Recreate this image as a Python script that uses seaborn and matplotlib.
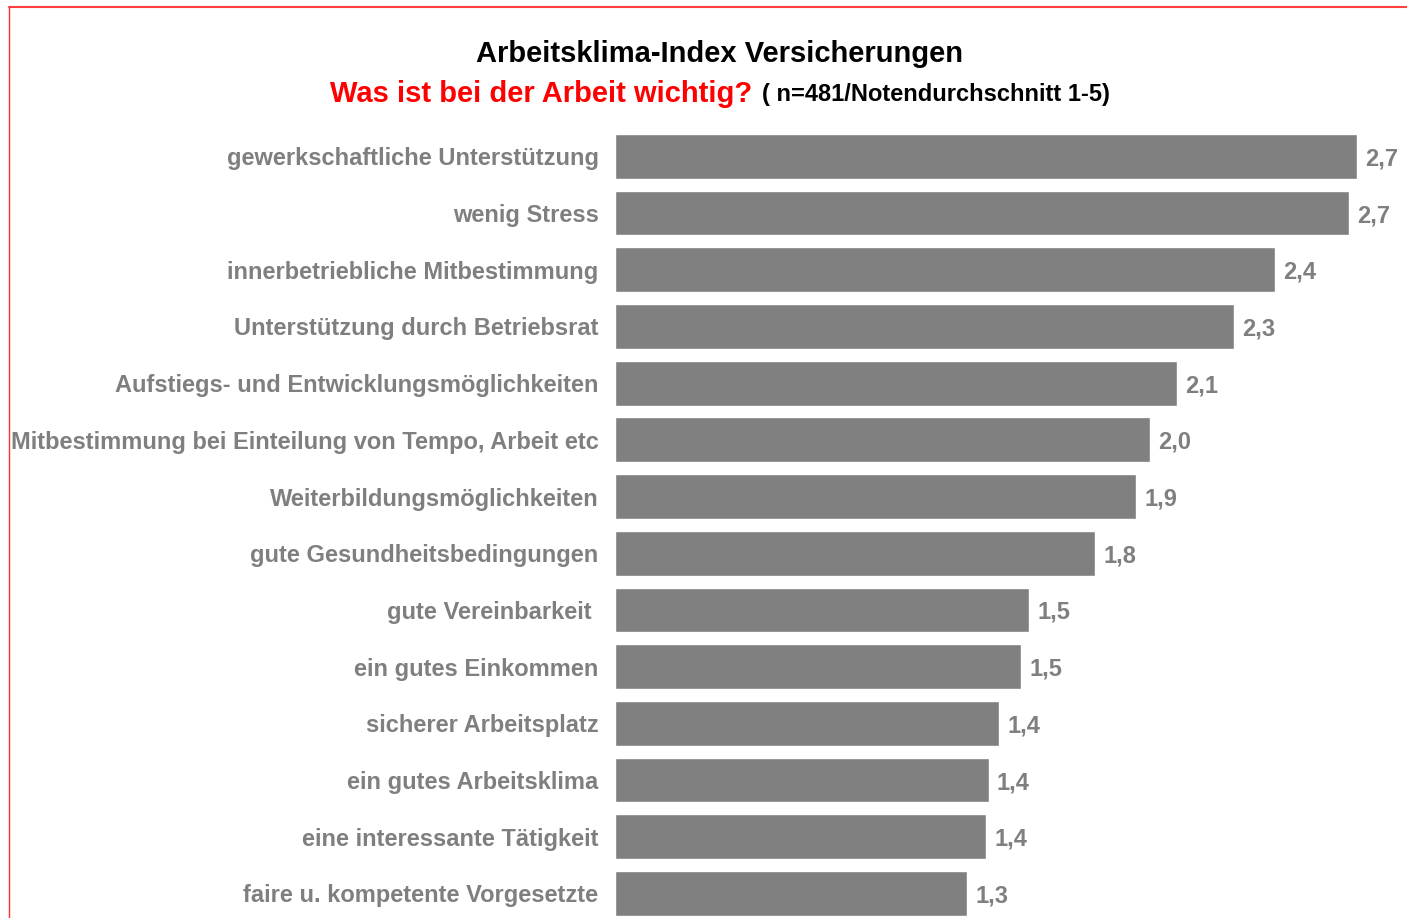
import matplotlib
matplotlib.use("Agg")
import matplotlib.pyplot as plt
import seaborn as sns
import pandas as pd
from matplotlib.lines import Line2D

categories = [
    "gewerkschaftliche Unterstützung",
    "wenig Stress",
    "innerbetriebliche Mitbestimmung",
    "Unterstützung durch Betriebsrat",
    "Aufstiegs- und Entwicklungsmöglichkeiten",
    "Mitbestimmung bei Einteilung von Tempo, Arbeit etc",
    "Weiterbildungsmöglichkeiten",
    "gute Gesundheitsbedingungen",
    "gute Vereinbarkeit ",
    "ein gutes Einkommen",
    "sicherer Arbeitsplatz",
    "ein gutes Arbeitsklima",
    "eine interessante Tätigkeit",
    "faire u. kompetente Vorgesetzte",
]
values = [2.72, 2.69, 2.42, 2.27, 2.06, 1.96, 1.91, 1.76, 1.52, 1.49, 1.41, 1.37, 1.36, 1.29]

title = "Arbeitsklima-Index Versicherungen"
subtitle_red = "Was ist bei der Arbeit wichtig?"
subtitle_black = "( n=481/Notendurchschnitt 1-5)"

df = pd.DataFrame({"cat": categories, "val": values})

sns.set_theme(style="white")
plt.rcParams["font.family"] = ["Liberation Sans", "DejaVu Sans"]

W, H = 1407, 918
fig = plt.figure(figsize=(W / 100, H / 100), dpi=100)
fig.patch.set_facecolor("white")

left_px, top_px = 614.5, 128.0
pitch = 56.7
n = len(categories)
bottom_px = top_px + pitch * n
ax = fig.add_axes([left_px / W, 1 - bottom_px / H, 2.9 * 273 / W, (bottom_px - top_px) / H])

sns.barplot(data=df, y="cat", x="val", orient="h", color="#808080", width=0.79,
            saturation=1, ax=ax)
ax.set_xlim(0, 2.9)
ax.set_ylim(n - 0.5, -0.5)
ax.set_xlabel("")
ax.set_ylabel("")
ax.set_xticks([])
for s in ax.spines.values():
    s.set_visible(False)
ax.tick_params(axis="y", length=0, pad=11.5)
for lbl in ax.get_yticklabels():
    lbl.set_fontsize(17)
    lbl.set_fontweight("bold")
    lbl.set_color("#7f7f7f")
    lbl.set_verticalalignment("center_baseline")

for i, v in enumerate(values):
    ax.annotate(f"{v:.1f}".replace(".", ","), xy=(v, i), xytext=(6, 0),
                textcoords="offset points", va="center_baseline", ha="left",
                fontsize=17, fontweight="bold", color="#7f7f7f")

fig.text(720 / W, 1 - 54 / H, title, ha="center", va="center",
         fontsize=21, fontweight="bold", color="black")
fig.text(752 / W, 1 - 94 / H, subtitle_red, ha="right", va="center",
         fontsize=21, fontweight="bold", color="#ff0000")
fig.text(762 / W, 1 - 94 / H, subtitle_black, ha="left", va="center",
         fontsize=17, fontweight="bold", color="black")

# red frame
fig.add_artist(Line2D([9 / W, 1], [1 - 7 / H, 1 - 7 / H], color="#ff4040", lw=1.5,
                      transform=fig.transFigure))
fig.add_artist(Line2D([9 / W, 9 / W], [1 - 7 / H, 0], color="#ff3030", lw=1.0,
                      transform=fig.transFigure))

fig.savefig("out.png", dpi=100, facecolor="white")
